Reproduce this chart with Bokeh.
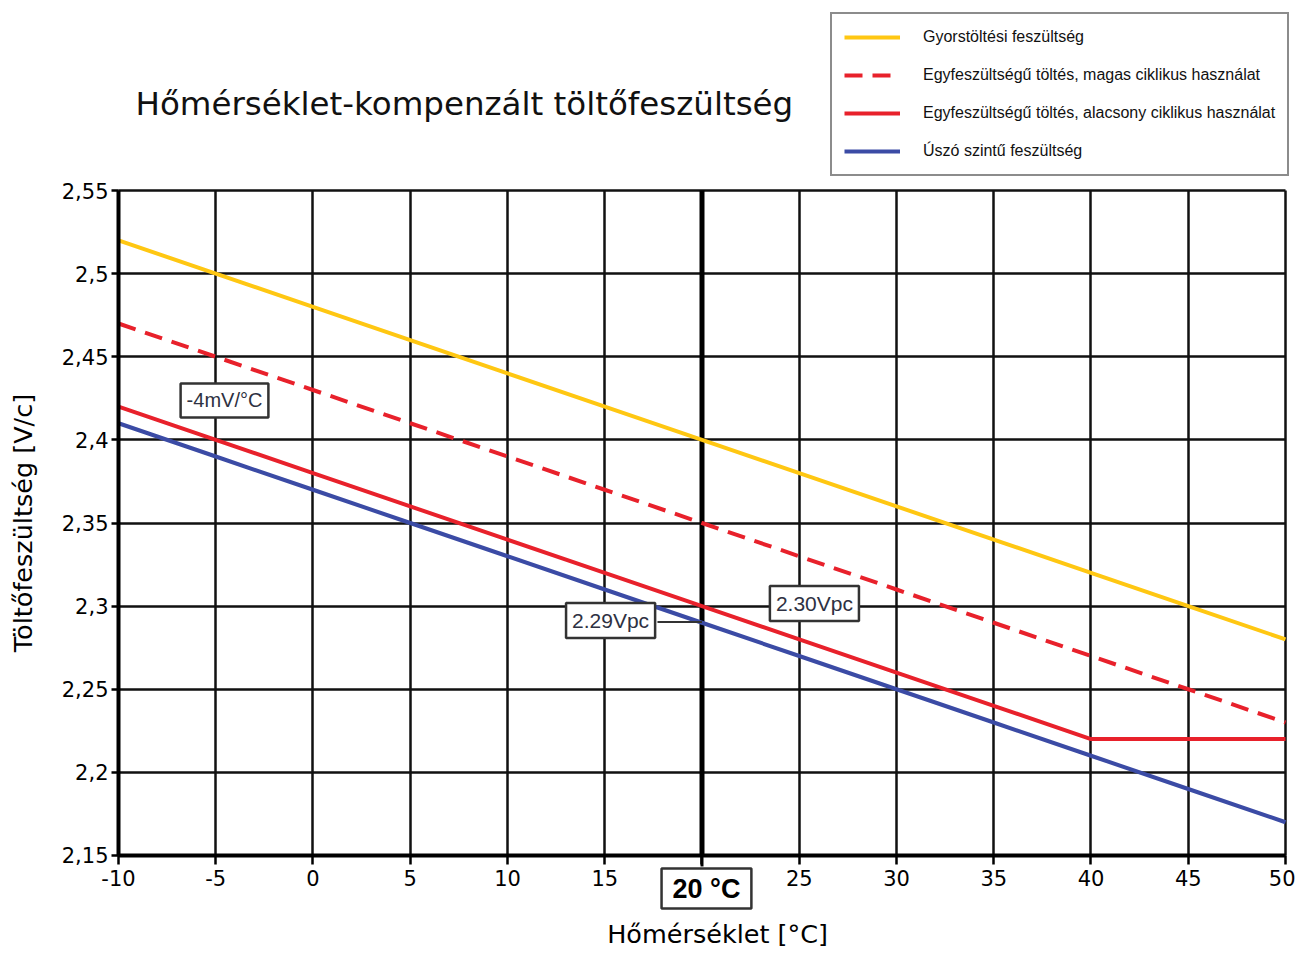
from bokeh.plotting import figure
from bokeh.models import FixedTicker, Legend, LegendItem, Label
from bokeh.embed import file_html
from bokeh.resources import INLINE

# ---------------- data ----------------
temps = [-10, -5, 0, 5, 10, 15, 20, 25, 30, 35, 40, 45, 50]
fast_charge = [2.52, 2.50, 2.48, 2.46, 2.44, 2.42, 2.40, 2.38, 2.36, 2.34, 2.32, 2.30, 2.28]
single_high = [2.47, 2.45, 2.43, 2.41, 2.39, 2.37, 2.35, 2.33, 2.31, 2.29, 2.27, 2.25, 2.23]
single_low = [2.42, 2.40, 2.38, 2.36, 2.34, 2.32, 2.30, 2.28, 2.26, 2.24, 2.22, 2.22, 2.22]
float_v = [2.41, 2.39, 2.37, 2.35, 2.33, 2.31, 2.29, 2.27, 2.25, 2.23, 2.21, 2.19, 2.17]

series_names = [
    "Gyorstöltési feszültség",
    "Egyfeszültségű töltés, magas ciklikus használat",
    "Egyfeszültségű töltés, alacsony ciklikus használat",
    "Úszó szintű feszültség",
]

x_ticks = [-10, -5, 0, 5, 10, 15, 20, 25, 30, 35, 40, 45, 50]
x_tick_labels = ["-10", "-5", "0", "5", "10", "15", "", "25", "30", "35", "40", "45", "50"]
y_ticks = [2.15, 2.20, 2.25, 2.30, 2.35, 2.40, 2.45, 2.50, 2.55]
y_tick_labels = ["2,15", "2,2", "2,25", "2,3", "2,35", "2,4", "2,45", "2,5", "2,55"]

title_text = "Hőmérséklet-kompenzált töltőfeszültség"
x_label = "Hőmérséklet [°C]"
y_label = "Töltőfeszültség [V/c]"

ref_temp = 20
# annotation boxes: (text, x, y)
ann_slope = ("-4mV/°C", -4.55, 2.4237)
ann_float = ("2.29Vpc", 15.30, 2.2914)
ann_single = ("2.30Vpc", 25.78, 2.3016)
ann_ref = ("20 °C", 20.23, 2.1301)
leader_x = [17.71, 20]
leader_y = [2.2905, 2.2905]
ref_leader_y = [2.15, 2.1434]
title_pos = (-9.126, 2.6023)
xlabel_pos = (20.8, 2.1030)

# ---------------- figure ----------------
W, H = 1295, 950
X_MIN, X_MAX = -16.0668, 50.5142
Y_MIN, Y_MAX = 2.092857, 2.664286
p = figure(width=W, height=H, x_range=(X_MIN, X_MAX), y_range=(Y_MIN, Y_MAX),
           output_backend="svg", toolbar_location=None,
           min_border=0, min_border_left=0, min_border_right=0, min_border_top=0,
           min_border_bottom=0)
p.background_fill_color = "white"
p.border_fill_color = "white"
p.outline_line_color = None

p.xaxis.fixed_location = y_ticks[0]
p.yaxis.fixed_location = x_ticks[0]
p.xaxis.bounds = (x_ticks[0], x_ticks[-1])
p.yaxis.bounds = (y_ticks[0], y_ticks[-1])
p.xaxis.ticker = FixedTicker(ticks=x_ticks)
p.yaxis.ticker = FixedTicker(ticks=y_ticks)
p.xaxis.major_label_overrides = {t: l for t, l in zip(x_ticks, x_tick_labels)}
p.yaxis.major_label_overrides = {t: l for t, l in zip(y_ticks, y_tick_labels)}
for ax in (p.xaxis, p.yaxis):
    ax.axis_line_color = "black"
    ax.axis_line_width = 4
    ax.major_tick_line_color = "black"
    ax.major_tick_line_width = 2.5
    ax.major_tick_in = 0
    ax.minor_tick_line_color = None
    ax.major_label_text_font = "DejaVu Sans"
    ax.major_label_text_font_size = "21px"
    ax.major_label_text_color = "black"
    ax.axis_label_text_font = "DejaVu Sans"
    ax.axis_label_text_font_style = "normal"
    ax.axis_label_text_font_size = "25.5px"
    ax.axis_label_text_color = "black"
p.xaxis.major_tick_out = 9
p.yaxis.major_tick_out = 7
p.xaxis.major_label_standoff = 6
p.yaxis.major_label_standoff = 3
p.yaxis.axis_label = y_label
p.yaxis.axis_label_standoff = 21

p.xgrid.ticker = FixedTicker(ticks=x_ticks)
p.ygrid.ticker = FixedTicker(ticks=y_ticks)
p.xgrid.bounds = (x_ticks[0], x_ticks[-1])
p.ygrid.bounds = (y_ticks[0], y_ticks[-1])
p.xgrid.cross_bounds = (y_ticks[0], y_ticks[-1])
p.ygrid.cross_bounds = (x_ticks[0], x_ticks[-1])
for g in (p.xgrid, p.ygrid):
    g.grid_line_color = "#111111"
    g.grid_line_width = 2.5
    g.grid_line_alpha = 1.0

# thick reference line at 20 °C
p.line([ref_temp, ref_temp], [y_ticks[0], y_ticks[-1]], line_color="black", line_width=5)
p.line([ref_temp, ref_temp], ref_leader_y, line_color="black", line_width=3)

colors = ["#FFC712", "#E8212B", "#E8212B", "#3B4BA5"]
r1 = p.line(temps, fast_charge, line_color=colors[0], line_width=4)
r2 = p.line(temps, single_high, line_color=colors[1], line_width=4, line_dash="18 10")
r3 = p.line(temps, single_low, line_color=colors[2], line_width=4)
r4 = p.line(temps, float_v, line_color=colors[3], line_width=4)

# leader line for the float-voltage annotation
p.line(leader_x, leader_y, line_color="#333333", line_width=2)


def box_label(item, size, bold=False, color="#2e3142", pad=6):
    txt, x, y = item
    p.add_layout(Label(x=x, y=y, text=txt, text_align="center", text_baseline="middle",
                       text_font="Liberation Sans", text_font_size=size,
                       text_font_style="bold" if bold else "normal", text_color=color,
                       border_line_color="#333333", border_line_width=2.5,
                       background_fill_color="white", padding=pad))


box_label(ann_slope, "20px")
box_label(ann_float, "21px")
box_label(ann_single, "21px")
box_label(ann_ref, "27px", bold=True, color="black", pad=(11, 5))

# title and x-axis title
p.add_layout(Label(x=title_pos[0], y=title_pos[1], text=title_text, text_align="left",
                   text_baseline="middle", text_font="DejaVu Sans",
                   text_font_size="32.5px", text_color="#111111"))
p.add_layout(Label(x=xlabel_pos[0], y=xlabel_pos[1], text=x_label, text_align="center",
                   text_baseline="middle", text_font="DejaVu Sans",
                   text_font_size="25.5px", text_color="black"))

legend = Legend(items=[LegendItem(label=series_names[0], renderers=[r1]),
                       LegendItem(label=series_names[1], renderers=[r2]),
                       LegendItem(label=series_names[2], renderers=[r3]),
                       LegendItem(label=series_names[3], renderers=[r4])],
                location=(830, H - 176))
legend.border_line_color = "#1a1a1a"
legend.border_line_width = 2.5
legend.background_fill_color = "white"
legend.background_fill_alpha = 1.0
legend.padding = 12
legend.margin = 0
legend.spacing = 16
legend.glyph_width = 56
legend.glyph_height = 22
legend.label_height = 22
legend.label_standoff = 23
legend.label_text_font = "Liberation Sans"
legend.label_text_font_size = "16px"
legend.label_text_color = "#111111"
legend.label_width = 352
p.add_layout(legend)

open("out.html", "w").write(file_html(p, INLINE))
